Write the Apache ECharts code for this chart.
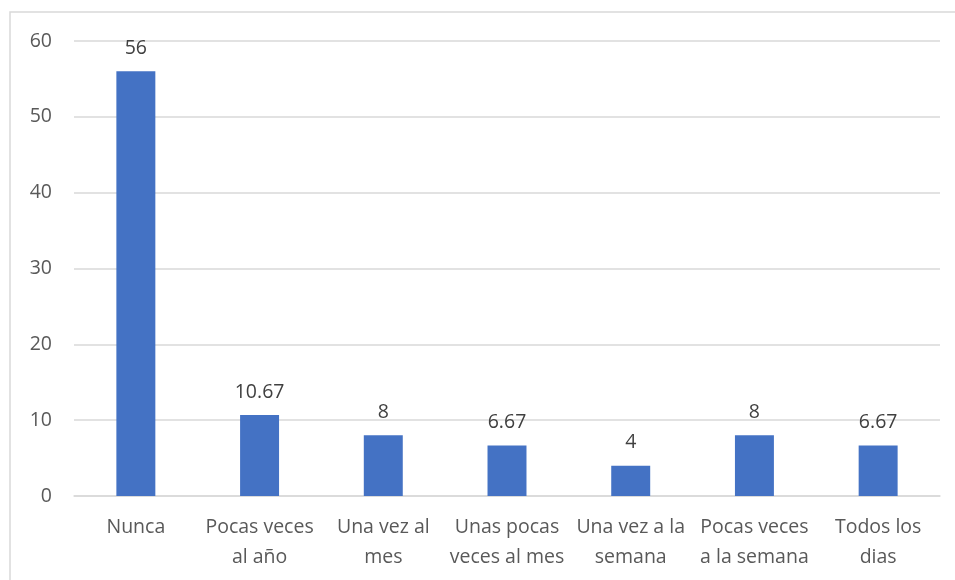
<!DOCTYPE html>
<html>
<head>
<meta charset="utf-8">
<script src="https://cdn.jsdelivr.net/npm/echarts@6/dist/echarts.min.js"></script>
<style>
  html, body { margin: 0; padding: 0; background: #fff; }
  #chart { width: 955px; height: 580px; }
</style>
</head>
<body>
<div id="chart"></div>
<script>
var categories = [
  "Nunca",
  "Pocas veces\nal año",
  "Una vez al\nmes",
  "Unas pocas\nveces al mes",
  "Una vez a la\nsemana",
  "Pocas veces\na la semana",
  "Todos los\ndias"
];
var values = [56, 10.67, 8, 6.67, 4, 8, 6.67];
var yTicks = [0, 10, 20, 30, 40, 50, 60];

var myChart = echarts.init(document.getElementById("chart"));
var font = "'Open Sans', 'Liberation Sans', sans-serif";

myChart.setOption({
  animation: false,
  // chart area frame
  graphic: [
    {
      type: "rect",
      shape: { x: 10, y: 12, width: 960, height: 600 },
      style: { fill: "none", stroke: "#d9d9d9", lineWidth: 1.5 },
      silent: true
    }
  ],
  grid: { left: 74, right: 15, top: 41, bottom: 84 },
  xAxis: {
    type: "category",
    data: categories,
    axisTick: { show: false },
    axisLine: { lineStyle: { color: "#d9d9d9", width: 1.5 } },
    axisLabel: {
      color: "#595959",
      fontSize: 19.5,
      fontFamily: font,
      lineHeight: 30,
      margin: 16,
      interval: 0
    }
  },
  yAxis: {
    type: "value",
    min: yTicks[0],
    max: yTicks[yTicks.length - 1],
    interval: 10,
    axisLine: { show: false },
    axisTick: { show: false },
    splitLine: { lineStyle: { color: "#d9d9d9", width: 1.5 } },
    axisLabel: {
      color: "#595959",
      fontSize: 19.5,
      fontFamily: font,
      margin: 22
    }
  },
  series: [
    {
      type: "bar",
      data: values,
      barWidth: "31.5%",
      itemStyle: { color: "#4472c4" },
      label: {
        show: true,
        position: "top",
        distance: 13,
        color: "#404040",
        fontSize: 19.5,
        fontFamily: font
      }
    }
  ]
});
</script>
</body>
</html>
